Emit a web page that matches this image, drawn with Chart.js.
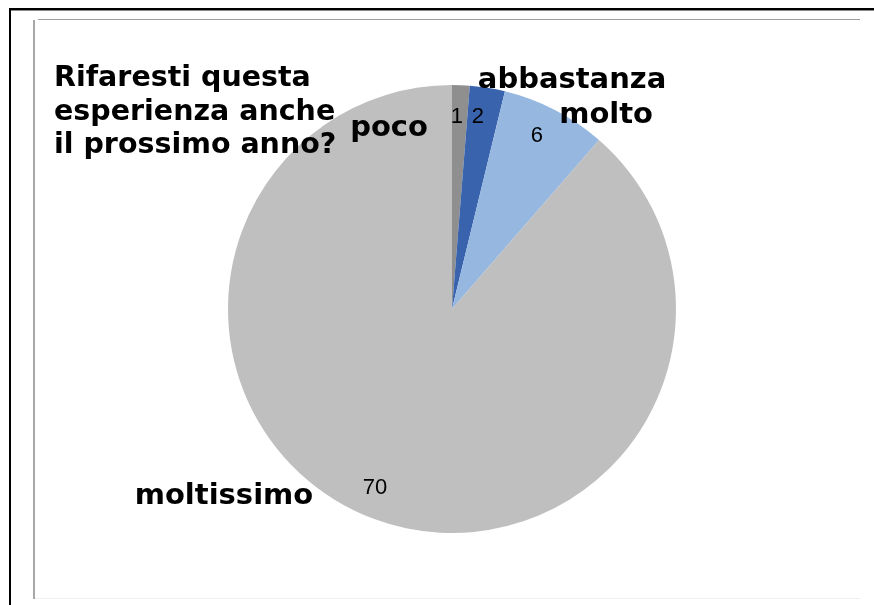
<!DOCTYPE html>
<html>
<head>
<meta charset="utf-8">
<script src="https://cdn.jsdelivr.net/npm/chart.js@4/dist/chart.umd.min.js"></script>
<style>
  html, body { margin: 0; padding: 0; background: #fff; }
  #wrap { position: relative; width: 874px; height: 605px; }
  canvas { display: block; }
</style>
</head>
<body>
<div id="wrap"><canvas id="c" width="874" height="605"></canvas></div>
<script>
// ---- data ----
const titleLines = ["Rifaresti questa", "esperienza anche", "il prossimo anno?"];
const categories = ["poco", "abbastanza", "molto", "moltissimo"];
const values = [1, 2, 6, 70];
const sliceColors = ["#8F8F8F", "#3A63AD", "#95B7E0", "#BFBFBF"];

// ---- label layout (relative to pie centre, in units of radius) ----
const valueLabelPos = [[0.022, -0.857], [0.116, -0.857], [0.379, -0.772], [-0.344, 0.799]];
const nameLabelPos = [[-0.281, -0.808], [0.536, -1.022], [0.688, -0.862], [-1.018, 0.839]];

const framePlugin = {
  id: 'frame',
  beforeDraw(chart) {
    const ctx = chart.ctx;
    ctx.save();
    ctx.fillStyle = '#fff';
    ctx.fillRect(0, 0, chart.width, chart.height);
    // outer black border (top + left)
    ctx.fillStyle = '#000';
    ctx.fillRect(9, 8, 865, 2);
    ctx.fillStyle = '#888';
    ctx.fillRect(9, 10, 865, 1);
    ctx.fillStyle = '#000';
    ctx.fillRect(9, 8, 2, 597);
    // inner grey frame
    ctx.fillStyle = '#A0A0A0';
    ctx.fillRect(38, 19, 822, 1);
    ctx.fillStyle = '#A8A8A8';
    ctx.fillRect(33, 20, 2, 579);
    ctx.fillStyle = '#EFEFEF';
    ctx.fillRect(35, 598, 825, 1);
    ctx.restore();
  },
  afterDatasetsDraw(chart) {
    const ctx = chart.ctx;
    const arc = chart.getDatasetMeta(0).data[0];
    const cx = arc.x, cy = arc.y, r = arc.outerRadius;
    ctx.save();
    ctx.textAlign = 'center';
    ctx.textBaseline = 'middle';
    ctx.fillStyle = '#000';
    // value labels
    ctx.font = '22px "Liberation Sans", Arial, sans-serif';
    values.forEach((v, i) => {
      const p = valueLabelPos[i];
      ctx.fillText(String(v), cx + p[0] * r, cy + p[1] * r);
    });
    // category labels
    ctx.font = 'bold 29px "DejaVu Sans", Verdana, sans-serif';
    categories.forEach((c, i) => {
      const p = nameLabelPos[i];
      ctx.fillText(c, cx + p[0] * r, cy + p[1] * r);
    });
    // title
    ctx.font = 'bold 28.5px "DejaVu Sans", Verdana, sans-serif';
    ctx.textAlign = 'left';
    ctx.textBaseline = 'alphabetic';
    titleLines.forEach((t, i) => {
      ctx.fillText(t, 54, 86 + i * 33.5);
    });
    ctx.restore();
  }
};

new Chart(document.getElementById('c'), {
  type: 'pie',
  data: {
    labels: categories,
    datasets: [{
      data: values,
      backgroundColor: sliceColors,
      borderWidth: 0
    }]
  },
  options: {
    responsive: false,
    animation: false,
    layout: { padding: { left: 228, right: 198, top: 85, bottom: 72 } },
    plugins: {
      legend: { display: false },
      tooltip: { enabled: false },
      title: { display: false }
    }
  },
  plugins: [framePlugin]
});
</script>
</body>
</html>
